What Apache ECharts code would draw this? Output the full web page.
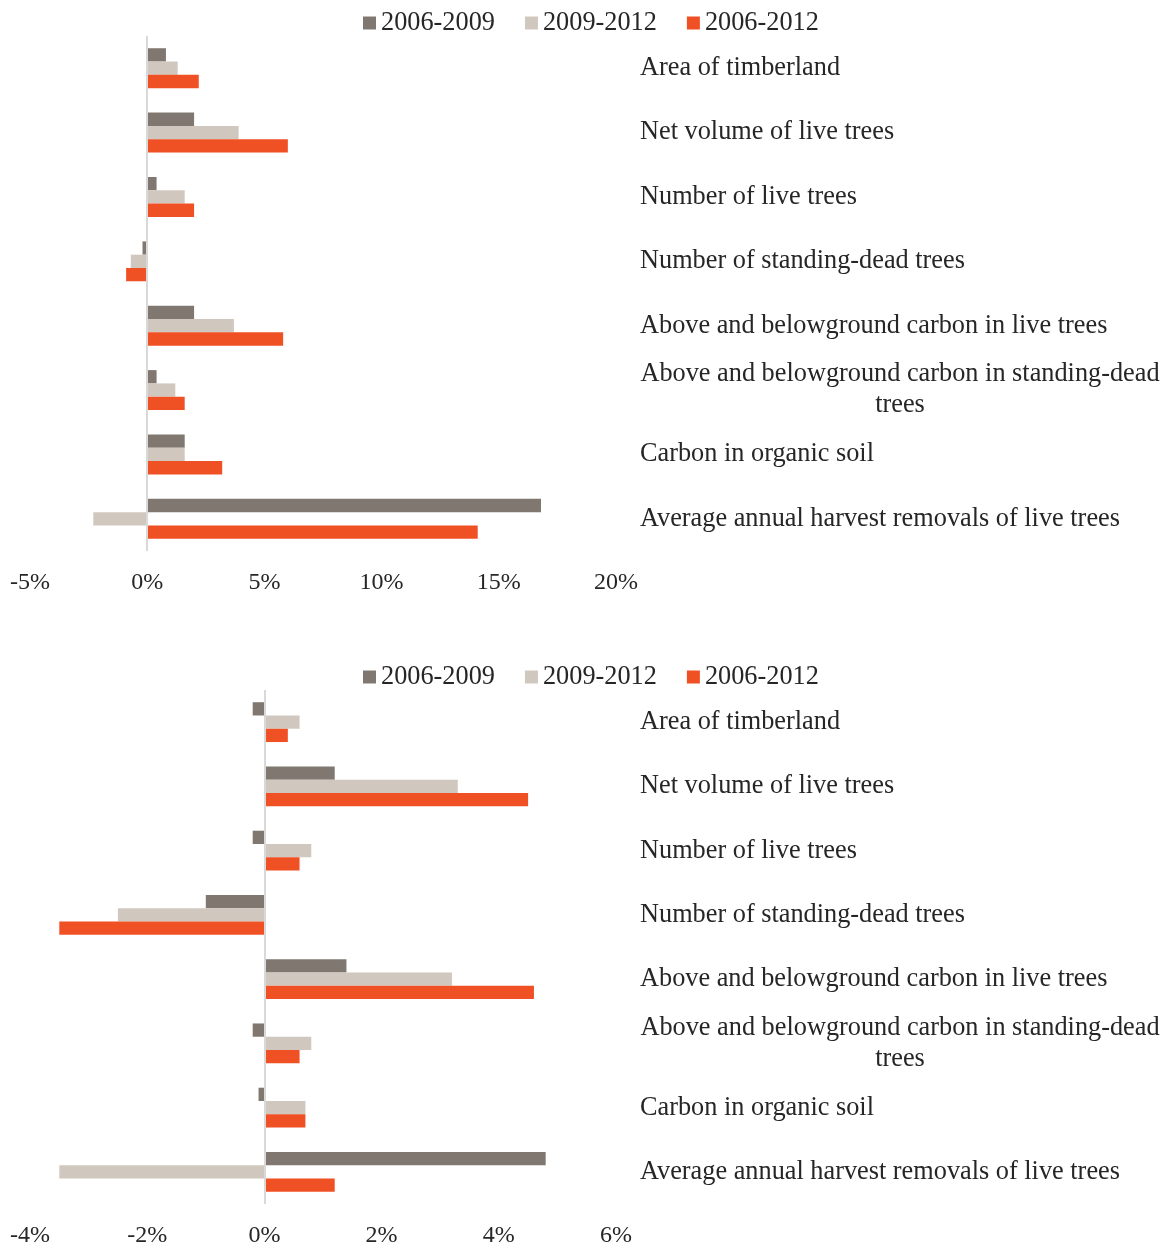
<!DOCTYPE html>
<html>
<head>
<meta charset="utf-8">
<script src="https://cdn.jsdelivr.net/npm/echarts@6/dist/echarts.min.js"></script>
<style>
  body { margin: 0; background: #fff; }
  #chart1 { width: 1175px; height: 654px; }
  #chart2 { width: 1175px; height: 594px; }
</style>
</head>
<body>
<div id="chart1"></div>
<div id="chart2"></div>
<script>
// categories (top to bottom)
var categories = [
  'Area of timberland',
  'Net volume of live trees',
  'Number of live trees',
  'Number of standing-dead trees',
  'Above and belowground carbon in live trees',
  'Above and belowground carbon in standing-dead trees',
  'Carbon in organic soil',
  'Average annual harvest removals of live trees'
];
var seriesNames = ['2006-2009', '2009-2012', '2006-2012'];
var colors = ['#807870', '#d0c8be', '#f05124'];

// top chart values (%)
var top0609 = [0.8, 2.0, 0.4, -0.2, 2.0, 0.4, 1.6, 16.8];
var top0912 = [1.3, 3.9, 1.6, -0.7, 3.7, 1.2, 1.6, -2.3];
var top0612 = [2.2, 6.0, 2.0, -0.9, 5.8, 1.6, 3.2, 14.1];

// bottom chart values (%)
var bot0609 = [-0.2, 1.2, -0.2, -1.0, 1.4, -0.2, -0.1, 4.8];
var bot0912 = [0.6, 3.3, 0.8, -2.5, 3.2, 0.8, 0.7, -3.5];
var bot0612 = [0.4, 4.5, 0.6, -3.5, 4.6, 0.6, 0.7, 1.2];

var fontFamily = '"Liberation Serif", "Times New Roman", serif';
var textColor = '#262626';
var labelSize = 26.3;

// width of the wrapped line so "trees" is centered under it
var wrapFirst = 'Above and belowground carbon in standing-dead';
var ctx = document.createElement('canvas').getContext('2d');
ctx.font = labelSize + 'px ' + fontFamily;
var wrapWidth = Math.ceil(ctx.measureText(wrapFirst).width);

function showBarchart(divid, datas, xmin, xmax, step) {
  var chart = echarts.init(document.getElementById(divid));
  var series = [];
  for (var i = 0; i < seriesNames.length; i++) {
    series.push({
      name: seriesNames[i],
      type: 'bar',
      data: datas[i],
      barGap: '0%',
      barCategoryGap: '38%',
      itemStyle: { color: colors[i] }
    });
  }
  // zero line
  series[0].markLine = {
    silent: true,
    symbol: 'none',
    label: { show: false },
    lineStyle: { color: '#d9d9d9', width: 2, type: 'solid' },
    data: [{ xAxis: 0 }]
  };
  var option = {
    animation: false,
    color: colors,
    textStyle: { fontFamily: fontFamily },
    legend: {
      top: 5,
      left: 358,
      itemWidth: 13,
      itemHeight: 13,
      itemGap: 30,
      icon: 'rect',
      data: seriesNames,
      textStyle: { fontSize: labelSize, color: textColor, fontFamily: fontFamily }
    },
    grid: { left: 30, width: 586, top: 36, height: 515 },
    xAxis: {
      type: 'value',
      min: xmin,
      max: xmax,
      interval: step,
      axisLine: { show: false },
      axisTick: { show: false },
      splitLine: { show: false },
      axisLabel: {
        margin: 20,
        formatter: '{value}%',
        fontSize: 24,
        color: textColor,
        fontFamily: fontFamily
      }
    },
    yAxis: {
      type: 'category',
      inverse: true,
      position: 'right',
      data: categories,
      axisLine: { show: false },
      axisTick: { show: false },
      axisLabel: {
        margin: 24,
        align: 'left',
        fontSize: labelSize,
        color: textColor,
        fontFamily: fontFamily,
        formatter: function (v) {
          if (v.indexOf(wrapFirst) === 0) {
            return '{a|' + wrapFirst + '}\n{a|trees}';
          }
          return v;
        },
        rich: {
          a: {
            width: wrapWidth,
            align: 'center',
            fontSize: labelSize,
            lineHeight: 31,
            color: textColor,
            fontFamily: fontFamily
          }
        }
      }
    },
    series: series
  };
  chart.setOption(option);
}

showBarchart('chart1', [top0609, top0912, top0612], -5, 20, 5);
showBarchart('chart2', [bot0609, bot0912, bot0612], -4, 6, 2);
</script>
</body>
</html>
